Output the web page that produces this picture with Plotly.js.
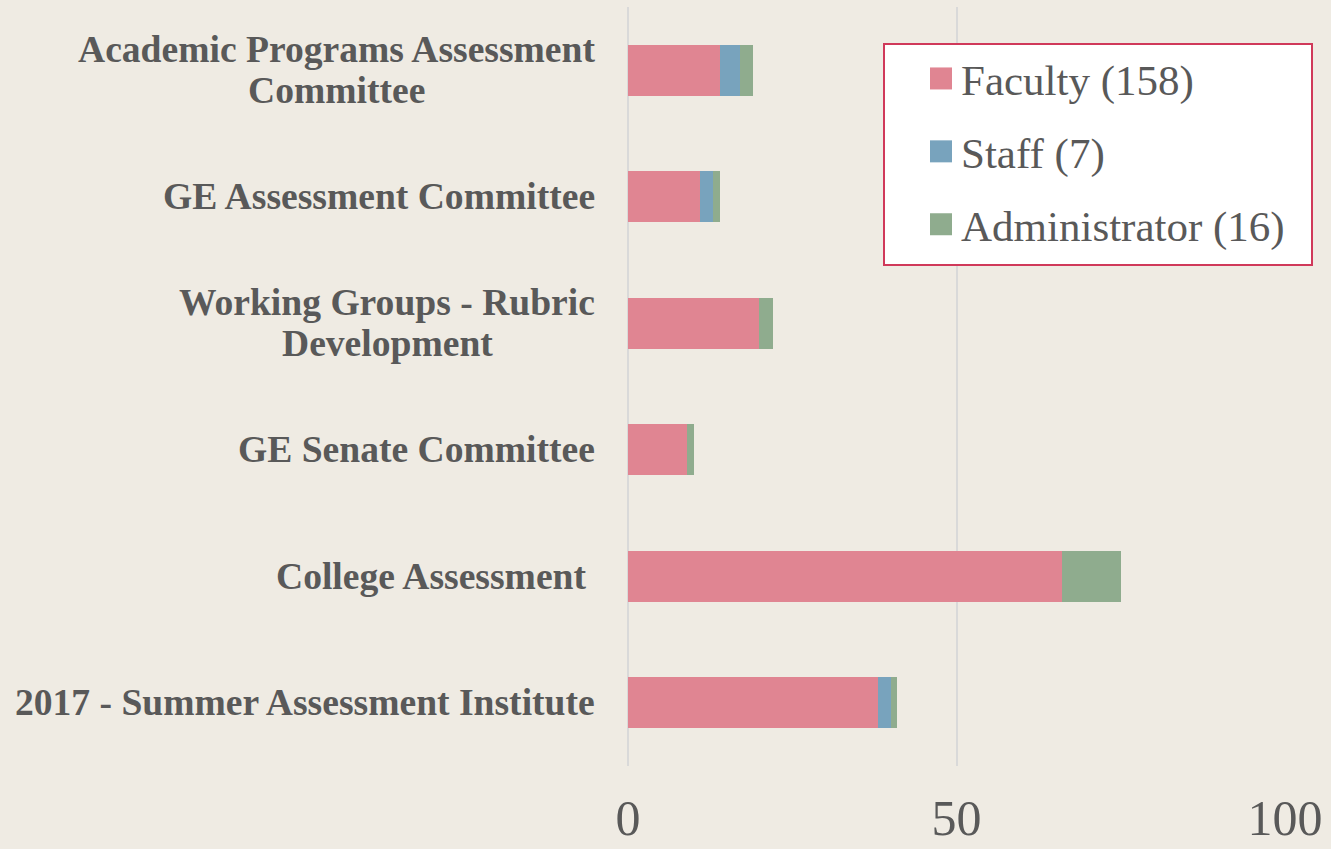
<!DOCTYPE html>
<html>
<head>
<meta charset="utf-8">
<script src="https://cdn.plot.ly/plotly-3.0.1.min.js"></script>
<style>html,body{margin:0;padding:0;background:#efebe3;}#chart{width:1331px;height:849px;}</style>
</head>
<body>
<div id="chart"></div>
<script>
const categories = [
  "2017 - Summer Assessment Institute",
  "College Assessment\u00A0",
  "GE Senate Committee",
  "Working Groups - Rubric<br>Development",
  "GE Assessment Committee",
  "Academic Programs Assessment<br>Committee"
];
const faculty = [38, 66, 9, 20, 11, 14];
const staff = [2, 0, 0, 0, 2, 3];
const administrator = [1, 9, 1, 2, 1, 2];
const seriesNames = ["Faculty (158)", "Staff (7)", "Administrator (16)"];
const seriesColors = ["#e08592", "#78a3bd", "#8fac8e"];
const xTicks = [0, 50, 100];

const SERIF = 'Liberation Serif, Times New Roman, serif';
const TEXT = '#595959';

const data = [faculty, staff, administrator].map((vals, i) => ({
  type: 'bar',
  orientation: 'h',
  y: categories,
  x: vals,
  name: seriesNames[i],
  legendgroup: 'g' + i,
  marker: {color: seriesColors[i], line: {width: 0}}
}));

// category labels: centered multi-line text, right edge next to the axis
const annotations = [];
categories.forEach(cat => {
  const lines = cat.split('<br>');
  lines.forEach((ln, i) => {
    annotations.push({
      xref: 'paper', x: 0, xanchor: 'right', xshift: -31,
      yref: 'y', y: cat, yanchor: 'middle',
      yshift: ((lines.length - 1) / 2 - i) * 41,
      text: ln, showarrow: false, align: 'center',
      font: {family: SERIF, size: 37.6, color: TEXT, weight: 'bold'}
    });
  });
});

const layout = {
  width: 1331, height: 849,
  paper_bgcolor: '#efebe3',
  plot_bgcolor: '#efebe3',
  barmode: 'stack',
  bargap: 0.6,
  margin: {l: 628, r: 46, t: 7, b: 83},
  font: {family: SERIF, color: TEXT},
  xaxis: {
    range: [0, 100],
    tickvals: xTicks,
    ticktext: xTicks.map(String),
    showgrid: true,
    gridcolor: '#d9d9d9',
    gridwidth: 2,
    zeroline: true,
    zerolinecolor: '#d9d9d9',
    zerolinewidth: 2,
    showline: false,
    tickfont: {family: SERIF, size: 50, color: TEXT},
    ticks: '',
    ticklabelstandoff: 18,
    fixedrange: true
  },
  yaxis: {
    categoryorder: 'array',
    categoryarray: categories,
    showticklabels: false,
    ticks: '',
    showgrid: false,
    showline: false,
    fixedrange: true
  },
  shapes: [{
    type: 'rect', xref: 'paper', yref: 'paper', layer: 'above',
    x0: (884 - 628) / 657, x1: (1312 - 628) / 657,
    y0: (766 - 265) / 759, y1: (766 - 44) / 759,
    fillcolor: '#ffffff',
    line: {color: '#d0395a', width: 2}
  }],
  annotations: annotations,
  showlegend: true,
  legend: {
    x: (921 - 628) / 657, xanchor: 'left',
    y: (766 - 44) / 759, yanchor: 'top',
    bgcolor: 'rgba(0,0,0,0)',
    borderwidth: 0,
    font: {family: SERIF, size: 43, color: TEXT},
    traceorder: 'grouped',
    tracegroupgap: 14
  }
};

function squareSymbols() {
  document.querySelectorAll('.legend .legendpoints path').forEach(p => {
    p.setAttribute('d', 'M11,11H-11V-11H11Z');
  });
}

Plotly.newPlot('chart', data, layout, {displayModeBar: false, staticPlot: true}).then(gd => {
  // center continuation lines of multi-line labels under their first line
  const nodes = document.querySelectorAll('.annotation');
  const widths = Array.from(nodes).map(n => n.getBoundingClientRect().width);
  const updates = {};
  let idx = 0;
  categories.forEach(cat => {
    const lines = cat.split('<br>');
    for (let k = 1; k < lines.length; k++) {
      updates['annotations[' + (idx + k) + '].xshift'] = -31 - (widths[idx] - widths[idx + k]) / 2;
    }
    idx += lines.length;
  });
  return Plotly.relayout(gd, updates);
}).then(squareSymbols);
</script>
</body>
</html>
